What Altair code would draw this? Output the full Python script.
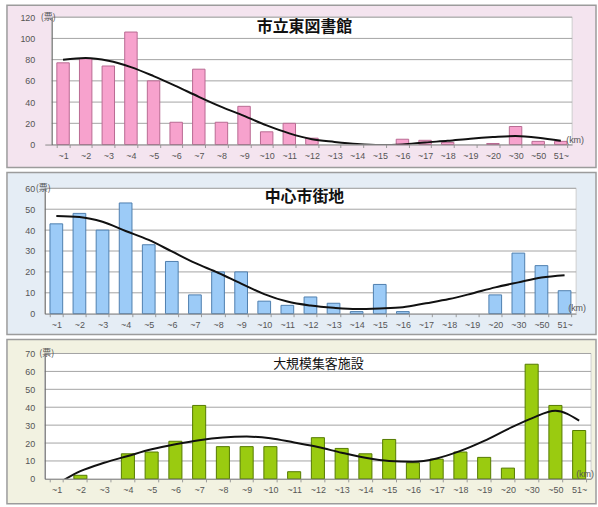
import altair as alt
import pandas as pd

# Distance bands (km) shared by all three panels
categories = ["~1", "~2", "~3", "~4", "~5", "~6", "~7", "~8", "~9", "~10",
              "~11", "~12", "~13", "~14", "~15", "~16", "~17", "~18", "~19",
              "~20", "~30", "~50", "51~"]

# 市立東図書館
library_counts = [77, 81, 74, 106, 60, 21, 71, 21, 36, 12, 20, 6,
                  0, 0, 0, 5, 4, 2, 0, 1, 17, 3, 3]
library_trend = [80, 81.5, 79, 73, 64.5, 55, 45, 35.5, 27, 18, 10.5, 5,
                 2.5, 0.5, -0.5, 0, 2, 3.5, 5.5, 7, 8, 6.5, 3.5]

# 中心市街地
center_counts = [43, 48, 40, 53, 33, 25, 9, 20, 20, 6, 4, 8,
                 5, 1, 14, 1, 0, 0, 0, 9, 29, 23, 11]
center_trend = [46.8, 46.3, 44, 39.6, 35.3, 29.8, 24.3, 19.6, 14.4, 9.4, 5.8, 3.9,
                2.8, 2.2, 2.5, 3.1, 5, 7, 9.7, 12.6, 15, 17.3, 18.4]

# 大規模集客施設
facility_counts = [0, 2, 0, 14, 15, 21, 41, 18, 18, 18, 4, 23,
                   17, 14, 22, 9, 11, 15, 12, 6, 64, 41, 27]
facility_trend = [-3, 4.3, 9, 12.8, 16.5, 19.3, 21.6, 23.1, 23.6, 22.7, 20.3, 17.8,
                  14.6, 11.8, 10, 9.6, 11.4, 15.6, 21.2, 27.8, 33.8, 38, 32.5]

library_ticks = [0, 20, 40, 60, 80, 100, 120]
center_ticks = [0, 10, 20, 30, 40, 50, 60]
facility_ticks = [0, 10, 20, 30, 40, 50, 60, 70]

LABEL_FONT = "Liberation Sans"
JP_FONT = "Noto Sans CJK JP"
ONE = alt.Data(values=[{}])


def panel(counts, trend, ticks, title, title_size, title_weight, title_x, title_y,
          bar_fill, bar_stroke, bg, width, height, left, box_top, box_bottom,
          pad_outer, align, label_pad, unit_x, km_x, km_y):
    df = pd.DataFrame({"cat": categories, "count": counts, "trend": trend})
    ymax = ticks[-1]
    xscale = alt.Scale(domain=categories, paddingInner=0.45,
                       paddingOuter=pad_outer, align=align)
    yscale = alt.Scale(domain=[0, ymax], nice=False, zero=True)
    xaxis = alt.Axis(labelFont=LABEL_FONT, labelFontSize=9, labelColor="#555555",
                     labelAngle=0, labelOverlap=False, labelFlush=False,
                     labelPadding=4, domainColor="#8a8a8a", ticks=True,
                     tickBand="extent", tickSize=3, tickColor="#9a9a9a",
                     grid=False, title=None, zindex=1)
    yaxis = alt.Axis(values=ticks, labelFont=LABEL_FONT, labelFontSize=9,
                     labelColor="#555555", labelPadding=label_pad, ticks=False,
                     domainColor="#6a6a6a", grid=False, title=None,
                     offset=-left, zindex=1)

    # coloured frame behind the whole panel, then the white plot area
    box = alt.Chart(ONE).mark_rect(fill=bg, stroke="#9c9c9c", strokeWidth=1.5).encode(
        x=alt.value(-38), x2=alt.value(554),
        y=alt.value(box_top), y2=alt.value(height + box_bottom))

    plot_bg = alt.Chart(ONE).mark_rect(fill="white", stroke="#cfcfcf", strokeWidth=1).encode(
        x=alt.value(left), x2=alt.value(width), y=alt.value(0), y2=alt.value(height))

    grid = alt.Chart(pd.DataFrame({"v": ticks[1:]})).mark_rule(
        color="#a3a3a3", strokeWidth=1).encode(
        y=alt.Y("v:Q", scale=yscale, axis=yaxis),
        x=alt.value(left), x2=alt.value(width))

    bars = alt.Chart(df).transform_filter("datum.count > 0").mark_bar(
        fill=bar_fill, stroke=bar_stroke, strokeWidth=1).encode(
        x=alt.X("cat:N", scale=xscale, axis=xaxis),
        y=alt.Y("count:Q", scale=yscale, axis=yaxis))

    line = alt.Chart(df).mark_line(color="#111111", strokeWidth=2,
                                   interpolate="monotone", clip=True).encode(
        x=alt.X("cat:N", scale=xscale, axis=xaxis),
        y=alt.Y("trend:Q", scale=yscale, axis=yaxis))

    head = alt.Chart(ONE).mark_text(text=title, font=JP_FONT, fontSize=title_size,
                                    fontWeight=title_weight, color="#111111",
                                    align="center", baseline="middle").encode(
        x=alt.value(title_x), y=alt.value(title_y))

    unit = alt.Chart(ONE).mark_text(text="(票)", font=JP_FONT, fontSize=9,
                                    color="#555555", align="center",
                                    baseline="middle").encode(
        x=alt.value(unit_x), y=alt.value(0))

    km = alt.Chart(ONE).mark_text(text="(km)", font=LABEL_FONT, fontSize=9,
                                  color="#555555", align="center",
                                  baseline="middle").encode(
        x=alt.value(km_x), y=alt.value(km_y))

    return alt.layer(box, plot_bg, grid, bars, line, head, unit, km).properties(
        width=width, height=height)


p1 = panel(library_counts, library_trend, library_ticks, "市立東図書館", 16, "bold",
           261, 10, "#f7a2cd", "#b86a92", "#f4e4ef", 530, 128, 7, -12, 23,
           0.3789, 0.703, 17, 3.5, 533, 123)
p2 = panel(center_counts, center_trend, center_ticks, "中心市街地", 16, "bold",
           261, 9, "#9ccbf7", "#4f7fae", "#e5edf5", 534, 126, 0, -16, 21,
           0.225, 0.5, 10, -1.5, 535, 120)
p3 = panel(facility_counts, facility_trend, facility_ticks, "大規模集客施設", 13, "normal",
           275, 11, "#9acb10", "#557a00", "#f2f2e1", 549, 126, 0, -14, 25,
           0.225, 0.5, 10, 2, 543, 121)

chart = alt.vconcat(p1, p2, p3, spacing=1).properties(
    padding={"left": 5, "top": 2, "right": 0, "bottom": 0},
    background="white",
).configure_view(stroke="transparent")

chart.save("out.html", embed_options={"renderer": "svg", "actions": False})
